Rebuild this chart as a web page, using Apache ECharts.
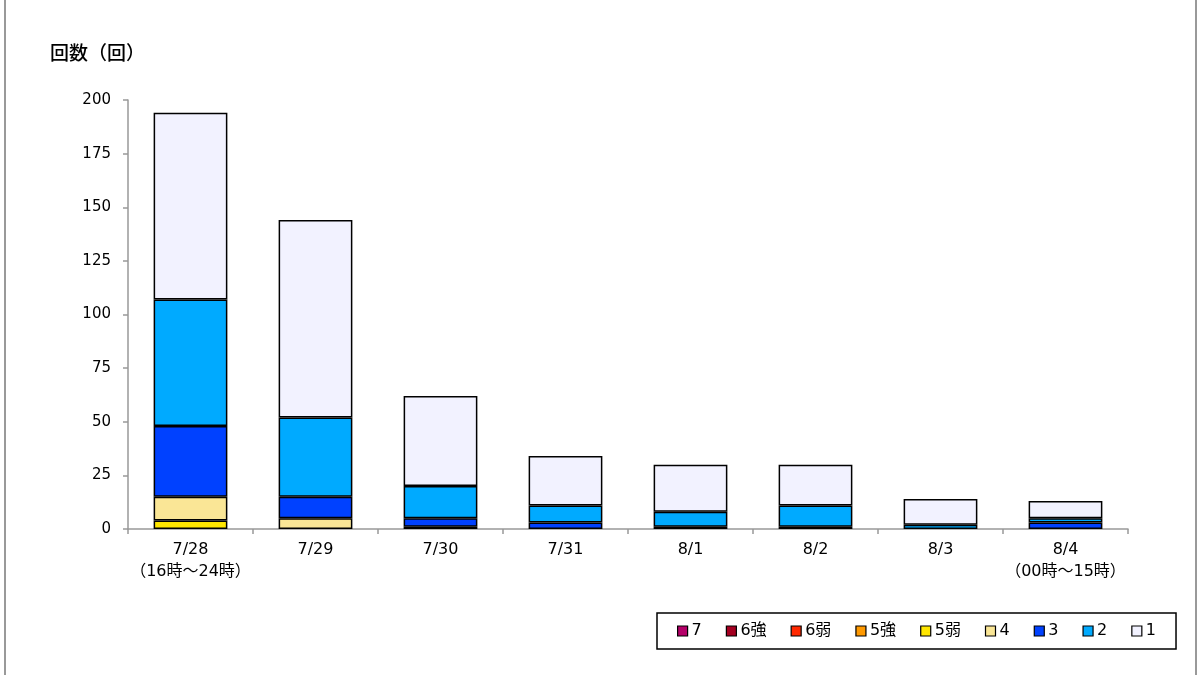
<!DOCTYPE html>
<html><head><meta charset="utf-8">
<script src="https://cdn.jsdelivr.net/npm/echarts@6/dist/echarts.min.js"></script>
<style>html,body{margin:0;padding:0;background:#fff}#c{width:1200px;height:675px}</style>
</head><body><div id="c"></div>
<script>
const categories = ['7/28\n（16時～24時）','7/29','7/30','7/31','8/1','8/2','8/3','8/4\n（00時～15時）'];
const seriesNames = ['7','6強','6弱','5強','5弱','4','3','2','1'];
const s7   = [0,0,0,0,0,0,0,0];
const s6p  = [0,0,0,0,0,0,0,0];
const s6m  = [0,0,0,0,0,0,0,0];
const s5p  = [0,0,0,0,0,0,0,0];
const s5m  = [4,0,0,0,0,0,0,0];
const s4   = [11,5,1,0,0,0,0,0];
const s3   = [33,10,4,3,1,1,0,3];
const s2   = [59,37,15,8,7,10,2,2];
const s1   = [87,92,42,23,22,19,12,8];
const yTicks = [0,25,50,75,100,125,150,175,200];
const colors = ['#B40068','#A50021','#FF2800','#FF9900','#FFE600','#FAE696','#0041FF','#00AAFF','#F2F2FF'];
const allData = [s7,s6p,s6m,s5p,s5m,s4,s3,s2,s1];

const chart = echarts.init(document.getElementById('c'));
const font = '"DejaVu Sans","Noto Sans CJK JP",sans-serif';
chart.setOption({
  animation:false,
  textStyle:{fontFamily:font},
  graphic:[
    {type:'line',shape:{x1:5,y1:0,x2:5,y2:675},style:{stroke:'#999',lineWidth:2}},
    {type:'line',shape:{x1:1196,y1:0,x2:1196,y2:675},style:{stroke:'#999',lineWidth:2}},
    {type:'text',left:50,top:43,style:{text:'回数（回）',fontSize:19,fill:'#000',fontFamily:'"Noto Sans CJK JP",sans-serif',fontWeight:500}}
  ],
  grid:{left:128,right:72,top:100,bottom:146},
  legend:{
    data:seriesNames,
    left:657, top:613,
    orient:'horizontal',
    borderColor:'#000', borderWidth:1.5, padding:[10,20],
    itemWidth:10, itemHeight:10, itemGap:24,
    icon:'rect',
    textStyle:{fontSize:16,color:'#000',fontFamily:font,padding:[0,0,0,-1]},
    itemStyle:{borderColor:'#000',borderWidth:1.2},
    selectedMode:false
  },
  xAxis:{
    type:'category', data:categories,
    axisLine:{lineStyle:{color:'#999',width:1.5}},
    axisTick:{show:true,length:5,interval:0,lineStyle:{color:'#999',width:1.5}},
    axisLabel:{color:'#000',fontSize:16,lineHeight:22,margin:10,interval:0,fontFamily:font}
  },
  yAxis:{
    type:'value', min:0, max:200, interval:25,
    axisLine:{show:true,lineStyle:{color:'#999',width:1.5}},
    axisTick:{show:true,length:5,lineStyle:{color:'#999',width:1.5}},
    splitLine:{show:false},
    axisLabel:{color:'#000',fontSize:15,margin:17,fontFamily:font,
      formatter:v=>yTicks.includes(v)?String(v):''}
  },
  series: seriesNames.map((n,i)=>({
    name:n, type:'bar', stack:'total', barWidth:'59%',
    data: allData[i].map(v=>v===0?null:v),
    itemStyle:{color:colors[i],borderColor:'#000',borderWidth:1.5}
  }))
});
</script></body></html>
